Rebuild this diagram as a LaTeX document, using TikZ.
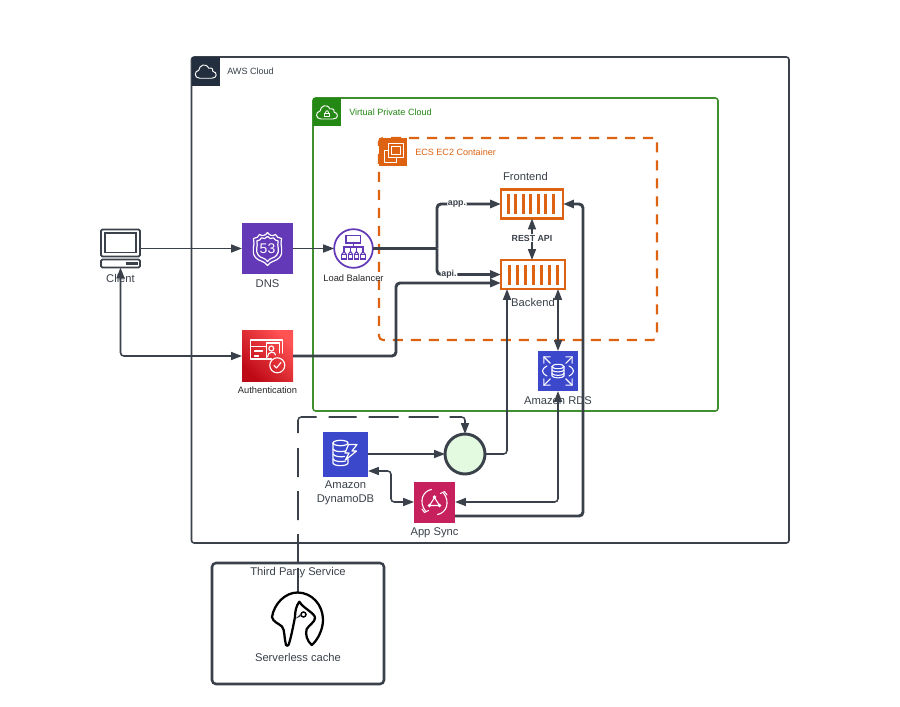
\documentclass[tikz,border=0pt]{standalone}
\usepackage{fontspec}
\setmainfont{Liberation Sans}
\usepackage{xcolor}
\usetikzlibrary{arrows.meta}
\definecolor{linedark}{HTML}{3A414A}
\definecolor{awsnavy}{HTML}{232F3E}
\definecolor{vpcgreen}{HTML}{248814}
\definecolor{vpcline}{HTML}{3F8F2E}
\definecolor{ecsorange}{HTML}{DD6313}
\definecolor{r53purple}{HTML}{6339B8}
\definecolor{rdsblue}{HTML}{3B48CC}
\definecolor{syncpink}{HTML}{C7215D}
\definecolor{hubgreen}{HTML}{E3FAE0}
\definecolor{authbright}{HTML}{FF5252}
\definecolor{authdark}{HTML}{BD0816}
\tikzset{
	boxnode/.style 2 args={rectangle, minimum width=#1*0.75pt, minimum height=#2*0.75pt, inner sep=0, outer sep=0},
	tile/.style={boxnode={#1}{#1}},
	headtile/.style={boxnode={#1}{#1}, anchor=north west},
	thinflow/.style={draw=linedark, line width=1.15pt, rounded corners=2.5pt},
	thickflow/.style={draw=linedark, line width=2.2pt, rounded corners=3pt},
	tipend/.style={-{Triangle[length=8.2pt, width=6pt]}},
	tipboth/.style={{Triangle[length=8.2pt, width=6pt]}-{Triangle[length=8.2pt, width=6pt]}},
	lbl/.style={text=linedark, font=\fontsize{8.4}{10}\selectfont, align=center, inner sep=0},
	lblsmall/.style={text=black!85, font=\fontsize{7}{9}\selectfont, inner sep=0},
	lblhead/.style={font=\fontsize{6.8}{9}\selectfont, anchor=west, inner sep=0},
	lblbold/.style={text=linedark, font=\bfseries\fontsize{6.6}{8}\selectfont, fill=white, inner sep=0.6pt},
	iconline/.style={draw=white, line width=0.9pt, line cap=round, line join=round},
}
\begin{document}
\begin{tikzpicture}[x=0.75pt, y=-0.75pt]
	\useasboundingbox (0,0) rectangle (900,707);
	\fill[white] (0,0) rectangle (900,707);

	\node[boxnode={597.5}{486}, draw=linedark, line width=1.2pt, rounded corners=2pt] (aws) at (490.25,300) {};
	\node[headtile=28.5, fill=awsnavy] (awshead) at (aws.north west) {};
	\node[lblhead, text=linedark] (awslbl) at (227,71.5) {AWS Cloud};

	\node[boxnode={405}{313}, draw=vpcline, line width=1.2pt, rounded corners=2pt] (vpc) at (515.5,254.5) {};
	\node[headtile=28, fill=vpcgreen] (vpchead) at (vpc.north west) {};
	\node[lblhead, text=vpcgreen] (vpclbl) at (349,112) {Virtual Private Cloud};

	\node[boxnode={278}{202}, draw=ecsorange, line width=1.6pt, dash pattern=on 7.5pt off 6pt, rounded corners=3pt] (ecs) at (518,239) {};
	\node[headtile=28, fill=ecsorange] (ecshead) at (ecs.north west) {};
	\node[lblhead, text=ecsorange] (ecslbl) at (415,152) {ECS EC2 Container};

	\node[boxnode={172}{121}, draw=linedark, line width=1.9pt, rounded corners=3pt] (third) at (298,623.5) {};

	\node[boxnode={39}{38}] (client) at (120.5,248.5) {};
	\node[tile=51, fill=r53purple] (dns) at (267.5,248.5) {};
	\node[lbl] (dnslbl) at (267.5,284) {DNS};
	\node[tile=51, left color=authbright, right color=authdark, shading angle=-45] (auth) at (267.5,356) {};
	\node[lblsmall] (authlbl) at (267.5,390) {Authentication};
	\node[circle, minimum size=29pt, inner sep=0, outer sep=0, draw=r53purple, line width=1.3pt, fill=white] (lb) at (353.5,248.5) {};
	\node[lblsmall] (lblb) at (353.5,278) {Load Balancer};

	\node[boxnode={62}{29}, draw=ecsorange, line width=2.1pt, fill=white] (frontend) at (532,204) {};
	\node[lbl] (frontendlbl) at (525.5,176.5) {Frontend};
	\node[boxnode={64}{29}, draw=ecsorange, line width=2.1pt, fill=white] (backend) at (533,274.5) {};
	\node[lbl] (backendlbl) at (533,302.5) {Backend};

	\node[tile=40, fill=rdsblue] (rds) at (558,371) {};
	\node[lbl] (rdslbl) at (558,401) {Amazon RDS};
	\node[tile=45, fill=rdsblue] (dynamo) at (345.5,454) {};
	\node[lbl] (dynamolbl) at (345.5,492.5) {Amazon\\[0.5pt]DynamoDB};
	\node[tile=41, fill=syncpink] (appsync) at (434.5,502) {};
	\node[lbl] (appsynclbl) at (434.5,532.5) {App Sync};
	\node[circle, minimum size=30pt, inner sep=0, outer sep=0, draw=linedark, line width=2.2pt, fill=hubgreen] (hub) at (465,454) {};
	\node[boxnode={50}{54}] (cache) at (298,619) {};
	\node[lbl] (cachelbl) at (298,657.5) {Serverless cache};

	\coordinate (authbend) at (396,283);
	\coordinate (backendlow) at (501,283);
	\coordinate (lbfork) at (437,248.5);
	\coordinate (backendfoot) at (507,289);
	\coordinate (dynamolow) at (368,471);
	\coordinate (syncbend) at (391,471);
	\coordinate (appsynclow) at (455,516);
	\coordinate (backbend) at (583,204);
	\coordinate (cachebend) at (298,417);

	\draw[thinflow, tipend] (client.east) -- (dns.west);
	\draw[thinflow, tipend] (dns.east) -- (lb.west);
	\draw[thickflow, tipend] (auth.east) -- (authbend |- auth.east) -- (authbend) -- (backendlow);
	\draw[thickflow] (lb.east) -- (lbfork);
	\draw[thickflow, tipend] (lbfork) |- (frontend.west) node[pos=0.656, lblbold] (applbl) {app.};
	\draw[thickflow, tipend] (lbfork) |- (backend.west) node[pos=0.594, lblbold] (apilbl) {api.};
	\draw[thinflow, tipboth] (frontend.south) -- (frontend.south |- backend.north) node[pos=0.47, lblbold] (restlbl) {REST API};
	\draw[thinflow, tipboth] (rds.north) -- (rds.north |- backend.south);
	\draw[thinflow, tipend] (dynamo.east) -- (hub.west);
	\draw[thinflow, tipend] (hub.east) -| (backendfoot);
	\draw[thinflow, tipboth] (dynamolow) -- (syncbend) |- (appsync.west);
	\draw[thinflow, tipboth] (appsync.east) -| (rds.south);
	\draw[thickflow, tipend] (appsynclow) -- (backbend |- appsynclow) -- (backbend) -- (frontend.east);
	\draw[thinflow, tipend, dash pattern=on 18pt off 4.5pt on 21pt off 10.5pt on 21.75pt off 10.5pt on 21.75pt off 11.25pt on 24.75pt off 9pt on 21pt off 9pt on 22.5pt off 7.5pt on 22.5pt off 8.25pt on 40pt off 40pt] (cache.north) -- (cachebend) -- (cachebend -| hub.north) -- (hub.north);
	\node[lbl] (thirdlbl) at (298,573) {Third Party Service};

	\foreach \n in {1,...,7} {
		\fill[ecsorange] ([xshift=(\n*7.55-0.45)*0.75pt]frontend.west) ++(-1.5,-10) rectangle ++(3,20);
		\fill[ecsorange] ([xshift=\n*8*0.75pt]backend.west) ++(-1.5,-10) rectangle ++(3,20);
	}

	\begin{scope}[shift={(awshead.center)}, iconline, line width=0.7pt]
		\draw (-6,7) .. controls (-11.5,7) and (-12,0) .. (-7,-1) .. controls (-6.5,-6) and (0,-9) .. (3,-3) .. controls (7,-4) and (8,-1) .. (7,0) .. controls (12,1) and (11.5,7) .. (6,7) -- cycle;
	\end{scope}
	\begin{scope}[shift={(vpchead.center)}, iconline, line width=0.7pt]
		\draw (-6,7) .. controls (-11.5,7) and (-12,0) .. (-7,-1) .. controls (-6.5,-6) and (0,-9) .. (3,-3) .. controls (7,-4) and (8,-1) .. (7,0) .. controls (12,1) and (11.5,7) .. (6,7) -- cycle;
		\draw[line width=0.6pt] (-2.5,1) rectangle (2.5,4.5);
		\draw[line width=0.6pt] (-1.5,1) .. controls (-1.5,-2) and (1.5,-2) .. (1.5,1);
	\end{scope}
	\begin{scope}[shift={(ecshead.center)}, iconline, line width=0.6pt]
		\draw (-5,-2) -- (-9,-2) -- (-9,10) -- (3,10) -- (3,5);
		\draw (-5,-9) rectangle (10,5);
		\draw (-2,-6) rectangle (7,2);
	\end{scope}

	\begin{scope}[shift={(dns.center)}, iconline]
		\foreach \s in {1,0.76} {
			\draw[scale=\s] (0,-16) .. controls (-2,-13) and (-5,-12) .. (-8,-14) .. controls (-9,-12) and (-11,-10) .. (-14,-10) .. controls (-12,-3) and (-17,3) .. (-12,9) .. controls (-9,13) and (-3,12) .. (0,17) .. controls (3,12) and (9,13) .. (12,9) .. controls (17,3) and (12,-3) .. (14,-10) .. controls (11,-10) and (9,-12) .. (8,-14) .. controls (5,-12) and (2,-13) .. (0,-16) -- cycle;
		}
	\end{scope}
	\node[text=white, font=\fontsize{10.5}{12}\selectfont, inner sep=0] (dnsnum) at (267.5,249) {53};

	\begin{scope}[shift={(auth.center)}, iconline, line width=0.85pt]
		\draw (4,3) -- (-17,3) -- (-17,-16) -- (15,-16) -- (15,-3);
		\draw (-17,-9.5) -- (-1,-9.5);
		\draw (-1,3) -- (-1,-13) -- (12,-13) -- (12,-3);
		\draw (3.8,-7.5) circle (2.5);
		\draw (-0,1) .. controls (0,-5) and (8,-5) .. (8,-1);
		\draw (-13,-5) -- (-5,-5);
		\draw (-13,0) -- (-9,0);
		\draw (9.8,9.3) circle (7.5);
		\draw (6.5,9.5) -- (9,12) -- (13.5,6.5);
	\end{scope}

	\begin{scope}[shift={(lb.center)}, draw=r53purple, line width=0.85pt]
		\draw (-7.5,-13) rectangle (7,-5.5);
		\draw (0,-5.5) -- (0,-1.5);
		\draw (-9.5,3) -- (-9.5,-1.5) -- (9.5,-1.5) -- (9.5,3);
		\draw (-3,3) -- (-3,-1.5);
		\draw (3,3) -- (3,-1.5);
		\foreach \dx in {-9.5,-3,3,9.5} {
			\draw (\dx-2.3,6) -- (\dx,3) -- (\dx+2.3,6);
			\draw (\dx-2.3,6) rectangle (\dx+2.3,10.5);
		}
	\end{scope}

	\begin{scope}[shift={(rds.center)}, iconline, line width=0.8pt]
		\foreach \a in {45,135,225,315} {
			\draw[rotate=\a] (11,0) -- (20,0);
			\draw[rotate=\a] (15.5,-4.5) -- (20,0) -- (15.5,4.5);
		}
		\draw (-11,-5) .. controls (-17,-2) and (-17,2) .. (-11,5);
		\draw (11,-5) .. controls (17,-2) and (17,2) .. (11,5);
		\draw (0,-4.5) ellipse (6 and 2.2);
		\draw (-6,-4.5) -- (-6,5) .. controls (-5,7.5) and (5,7.5) .. (6,5) -- (6,-4.5);
		\draw (-6,-1) .. controls (-5,1.5) and (5,1.5) .. (6,-1);
		\draw (-6,2.5) .. controls (-5,5) and (5,5) .. (6,2.5);
	\end{scope}

	\begin{scope}[shift={(dynamo.center)}, iconline, line width=0.9pt]
		\draw (-5,-11) ellipse (7.5 and 2.7);
		\draw (-12.5,-11) -- (-12.5,9) .. controls (-12,12.5) and (2,12.5) .. (2.5,9) -- (2.5,5);
		\draw (-12.5,-5) .. controls (-11,-2) and (-4,-2) .. (0,-3);
		\draw (-12.5,0) .. controls (-11,3) and (-4,3) .. (-1,2.5);
		\draw (-12.5,5) .. controls (-11,8) and (-3,8) .. (0,7);
		\draw (3,-9.5) -- (11.5,-9.5) -- (6.5,-3) -- (11,-3) -- (0,6) -- (3.5,-1) -- (-0.5,-1) -- cycle;
	\end{scope}

	\begin{scope}[shift={(appsync.center)}, iconline, line width=0.8pt]
		\draw (-3,-12.5) .. controls (-12,-11) and (-16,0) .. (-9,9);
		\draw (-12.5,7) -- (-10,10.5) -- (-6,8.5);
		\draw (3,12.5) .. controls (12,11) and (16,0) .. (9,-9);
		\draw (12.5,-7) -- (10,-10.5) -- (6,-8.5);
		\draw (0,-4.5) -- (-5,3.5) -- (5,3.5) -- cycle;
		\fill[white] (0,-5) circle (1.8) (-5,3.5) circle (1.8) (5,3.5) circle (1.8);
	\end{scope}

	\draw[black, line width=1.7pt, line join=round] (272,617) .. controls (274,604) and (285,592.5) .. (297.5,592.5) .. controls (312,592.5) and (323,605) .. (323,620) .. controls (323,630) and (317,641) .. (311.7,645) .. controls (307,641) and (305,634) .. (306.7,629) .. controls (309,625) and (315,622) .. (315,618) .. controls (315,613) and (304,609) .. (299.3,601.7) .. controls (296,606) and (295,612) .. (295,617) .. controls (293,627) and (291,638) .. (288.5,645) .. controls (287.5,646) and (286.5,646) .. (286,645) .. controls (284,638) and (285,630) .. (282,626.5) .. controls (278,623) and (273,622) .. (272,617) -- cycle;
	\draw[black, line width=1.1pt, fill=white] (303.5,614.5) circle (2.5);
	\fill[linedark] (295,619) -- (301,613.5) -- (301.5,616) -- cycle;

	\begin{scope}[draw=linedark, line width=1.4pt]
		\draw[rounded corners=1pt, fill=white] (client.north west) rectangle ([yshift=11*0.75pt]client.south east);
		\draw (105,233) rectangle (136,252.5);
		\draw[rounded corners=1pt, fill=white] ([yshift=8*0.75pt]client.south west) rectangle (client.south east);
		\fill[linedark] (126,261.5) rectangle (137.5,264.5);
	\end{scope}
	\draw[thinflow, tipboth] (client.south) |- (auth.west);
	\node[lbl] (clientlbl) at (120.5,278) {Client};
\end{tikzpicture}
\end{document}
